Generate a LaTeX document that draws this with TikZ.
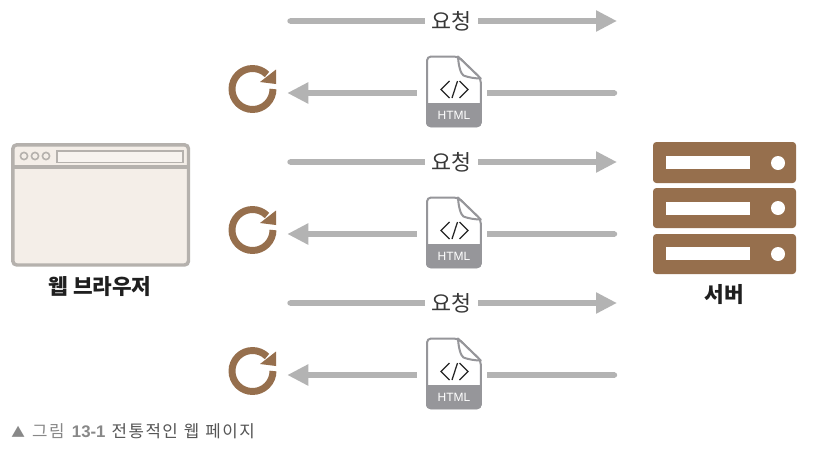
\documentclass[tikz,border=0pt]{standalone}
\usepackage{fontspec}
\setmainfont{Noto Sans CJK KR}
\newfontfamily\latinfont{Liberation Sans}
\usetikzlibrary{arrows.meta}
\definecolor{linegray}{HTML}{B3B3B3}
\definecolor{brownfill}{HTML}{966F4D}
\definecolor{browserborder}{HTML}{B5B1AD}
\definecolor{browserfill}{HTML}{F4EEE8}
\definecolor{docgray}{HTML}{96969A}
\definecolor{captiongray}{HTML}{888888}
\definecolor{captiondark}{HTML}{555555}
\tikzset{
  x=.75pt,y=-.75pt,
  flow/.style={draw=linegray,line width=4pt},
  flow head/.style={-{Triangle[length=15.75pt,width=15pt]}},
  flow cap/.style={fill=linegray},
  reqlabel/.style={inner sep=0pt,minimum width=39.75pt,minimum height=18pt,font=\fontsize{16.3}{16}\selectfont,text=black!78},
  docslot/.style={inner sep=0pt,minimum width=52.5pt,minimum height=53.25pt},
  reloadslot/.style={inner sep=0pt,minimum width=52.5pt,minimum height=36pt},
  title/.style={font=\fontsize{16}{16}\bfseries\selectfont,text=black!88,inner sep=0pt},
  htmltext/.style={font=\latinfont\fontsize{9}{9}\selectfont,text=white,inner sep=0pt},
  serverbox/.style={fill=brownfill,rounded corners=2.5pt},
  pics/docicon/.style={code={
    \begin{scope}
      \clip[rounded corners=3pt] (-27.5,35.5) -- (-27.5,-35.5) -- (4.5,-35.5) -- (28,-13) -- (28,35.5) -- cycle;
      \fill[white] (-28,-36) rectangle (29,12);
      \fill[docgray] (-28,11.5) rectangle (29,36);
    \end{scope}
    \draw[docgray,line width=1.5pt,rounded corners=3pt] (-26.5,34.8) -- (-26.5,-35) -- (4.5,-35) -- (27.3,-13) -- (27.3,34.8) -- cycle;
    \fill[white] (4.5,-35) .. controls (5,-26) and (7,-18) .. (10,-16) .. controls (15,-14) and (22,-13) .. (27.3,-13) -- cycle;
    \draw[docgray,line width=1.5pt,line join=round] (4.5,-35) .. controls (5,-26) and (7,-18) .. (10,-16) .. controls (15,-14) and (22,-13) .. (27.3,-13) -- cycle;
    \draw[black!85,line width=.95pt] (-4,-10.5) -- (-12.5,-2) -- (-4,6.5);
    \draw[black!85,line width=.95pt] (4,-10.5) -- (-1.5,6.5);
    \draw[black!85,line width=.95pt] (6,-10.5) -- (14.5,-2) -- (6,6.5);
    \node[htmltext] at (.5,23.5) {HTML};
  }},
  pics/reloadicon/.style={code={
    \draw[brownfill,line width=5.2pt] (21,0) arc[start angle=0,end angle=315,radius=20.5];
    \fill[brownfill] (24,-19.5) -- (24,-5) -- (8,-7) -- cycle;
  }},
}
\begin{document}
\begin{tikzpicture}
\useasboundingbox (0,0) rectangle (813,454);
\fill[white] (0,0) rectangle (813,454);

% browser
\draw[browserborder,fill=browserfill,line width=2.6pt,rounded corners=3pt] (12.8,144.8) rectangle (188.5,265);
\draw[browserborder,line width=2.4pt] (12.8,167) -- (188.5,167);
\draw[browserborder,fill=browserfill,line width=1.2pt] (24,156) circle[radius=3.6];
\draw[browserborder,fill=browserfill,line width=1.2pt] (35,156) circle[radius=3.6];
\draw[browserborder,fill=browserfill,line width=1.2pt] (46,156) circle[radius=3.6];
\draw[browserborder,fill=browserfill!70!white,line width=1.2pt] (57,151) rectangle (183,162.5);
\node[title] (browserlabel) at (100,287) {웹 브라우저};

% server
\fill[serverbox] (653,142) rectangle (796,183);
\fill[serverbox] (653,188) rectangle (796,228);
\fill[serverbox] (653,234) rectangle (796,274);
\fill[white] (666,156) rectangle (750,169);
\fill[white] (666,202) rectangle (750,215);
\fill[white] (666,247) rectangle (750,260);
\fill[white] (778,163) circle[radius=7];
\fill[white] (778,208) circle[radius=7];
\fill[white] (778,254) circle[radius=7];
\node[title] (serverlabel) at (724,295) {서버};

% requests
\foreach \i/\y in {1/21,2/162,3/303}{
  \coordinate (reqstart\i) at (290,\y);
  \coordinate (reqend\i) at (617,\y);
  \node[reqlabel] (req\i) at (451.5,\y) {\raisebox{-.75pt}{요청}};
  \fill[flow cap] (reqstart\i) circle[radius=2.7];
  \draw[flow] (reqstart\i) -- (req\i);
  \draw[flow,flow head] (req\i) -- (reqend\i);
}

% responses
\foreach \i/\y in {1/93,2/234,3/375}{
  \coordinate (resstart\i) at (614.5,\y);
  \node[docslot] (doc\i) at (452,\y) {};
  \pic at (453.5,\y-1.5) {docicon};
  \node[reloadslot] (reload\i) at (252,\y) {};
  \pic at (252,\y-4) {reloadicon};
  \fill[flow cap] (resstart\i) circle[radius=2.7];
  \draw[flow] (resstart\i) -- (doc\i);
  \draw[flow,flow head] (doc\i) -- (reload\i);
}

% caption
\node[anchor=west,inner sep=0pt,text=captiongray,font=\fontsize{12.6}{13}\selectfont] (caption) at (11,431) {\addfontfeature{LetterSpace=9}{\fontsize{10.2}{13}\selectfont ▲}\hspace{5.5pt}그림\hspace{5.5pt}{\latinfont\bfseries 13-1}\hspace{4.5pt}\textcolor{captiondark}{전통적인\hspace{4.5pt}웹\hspace{4.5pt}페이지}};
\end{tikzpicture}
\end{document}
